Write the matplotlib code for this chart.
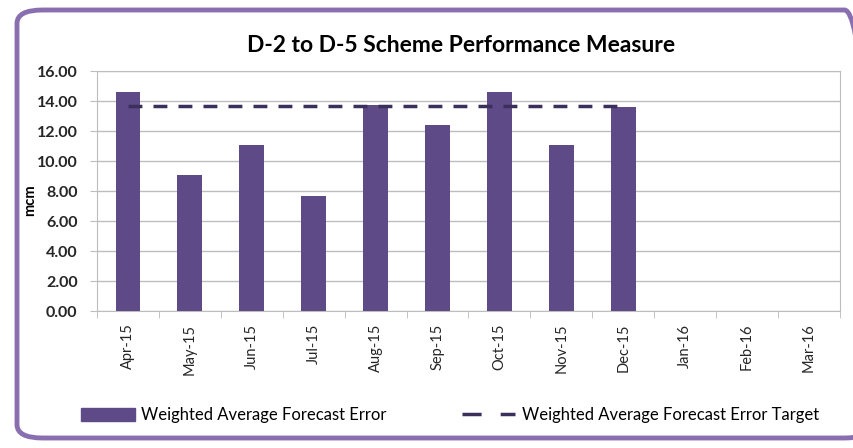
import matplotlib
matplotlib.use("Agg")
import matplotlib.pyplot as plt
import numpy as np
from matplotlib.patches import FancyBboxPatch
from matplotlib.lines import Line2D
from matplotlib.patches import Patch

months = ["Apr-15", "May-15", "Jun-15", "Jul-15", "Aug-15", "Sep-15",
          "Oct-15", "Nov-15", "Dec-15", "Jan-16", "Feb-16", "Mar-16"]
error_values = [14.6, 9.05, 11.1, 7.7, 13.75, 12.4, 14.6, 11.1, 13.6]
target_values = [13.7] * 9
yticks = [0, 2, 4, 6, 8, 10, 12, 14, 16]

plt.rcParams['font.family'] = ['Lato', 'DejaVu Sans']

bar_color = "#5E4A87"
grid_color = "#BDBDBD"

fig = plt.figure(figsize=(8.54, 4.48), dpi=100)
fig.patch.set_facecolor("white")

# rounded border
border = FancyBboxPatch((17/854, 10/448), (870-17)/854, (438-10)/448,
                        boxstyle="round,pad=0,rounding_size=0.03",
                        transform=fig.transFigure, facecolor="none",
                        edgecolor="#8A6FB0", linewidth=3.5, clip_on=False)
fig.patches.append(border)

ax = fig.add_axes([97/854, 1-311/448, (840-97)/854, (311-71)/448])
x = np.arange(len(months))
ax.bar(x[:len(error_values)], error_values, width=0.4, color=bar_color, zorder=3)
ax.plot(x[:len(target_values)], target_values, color="#3B2F5C", lw=2.5,
        dashes=(4, 3.2), zorder=4)

ax.set_xlim(-0.5, len(months) - 0.5)
ax.set_ylim(0, 16)
ax.set_yticks(yticks)
ax.set_yticklabels([f"{v:.2f}" for v in yticks], fontsize=11.5, fontweight='bold',
                   color="#262626")
ax.set_xticks(x)
ax.set_xticklabels(months, rotation=90, fontsize=10.5, color="#262626")
ax.tick_params(axis='x', length=0, pad=9)
ax.set_xticks(np.arange(-0.5, len(months), 1), minor=True)
ax.tick_params(axis='x', which='minor', length=5, color=grid_color)
ax.tick_params(axis='y', length=5, color=grid_color, pad=9)
ax.grid(axis='y', color=grid_color, lw=1, zorder=0)
for s in ax.spines.values():
    s.set_color(grid_color)

fig.text(30/854, 1-200/448, "mcm", rotation=90, fontsize=10.5, fontweight='bold',
         ha='center', va='center')
fig.text(461/854, 1-46/448, "D-2 to D-5 Scheme Performance Measure",
         fontsize=16.5, fontweight='bold', ha='center', va='center')

handles = [Patch(facecolor=bar_color, edgecolor=bar_color),
           Line2D([0], [0], color="#3B2F5C", lw=2.5, dashes=(5.5, 5.5))]
fig.legend(handles, ["Weighted Average Forecast Error",
                     "Weighted Average Forecast Error Target"],
           loc='center', bbox_to_anchor=(0.527, 1-415/448), ncol=2,
           frameon=False, fontsize=12, columnspacing=4.5,
           handlelength=3.2, handleheight=0.8, handletextpad=0.4)

fig.savefig("out.png", dpi=100)
